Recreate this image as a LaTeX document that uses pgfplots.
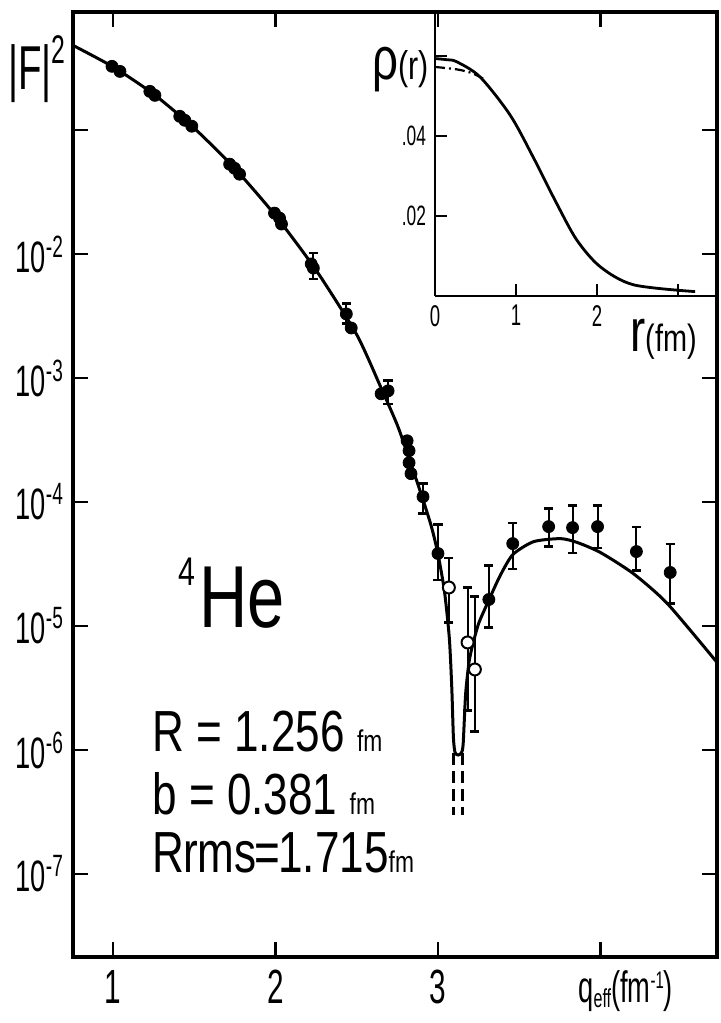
\documentclass[border=0pt]{standalone}
\usepackage{fontspec}
\setmainfont{Liberation Sans}[FakeStretch=0.62]
\newfontfamily\wide{Liberation Sans}[FakeStretch=0.76]
\usepackage{pgfplots}
\pgfplotsset{compat=1.18}
\newcommand{\fs}[1]{\fontsize{#1}{#1}\selectfont}
\begin{document}
\begin{tikzpicture}[x=1pt,y=1pt]
\useasboundingbox (-36.5pt,-33pt) rectangle (323.5pt,478.5pt);
\begin{axis}[
  at={(0pt,0pt)}, anchor=south west,
  width=322pt, height=472.5pt, scale only axis,
  ymode=log,
  xmin=0.754, xmax=4.717, ymin=2.143e-8, ymax=0.8954,
  xtick={1,2,3,4}, xticklabels={1,2,3,{}},
  ytick={1e-7,1e-6,1e-5,1e-4,1e-3,1e-2,1e-1},
  yticklabels={10\textsuperscript{-7},10\textsuperscript{-6},10\textsuperscript{-5},10\textsuperscript{-4},10\textsuperscript{-3},10\textsuperscript{-2},{}},
  yminorticks=false, xminorticks=false,
  tick align=inside, major tick length=7.5pt,
  axis line style={line width=1.6pt},
  tick style={line width=1.2pt, black},
  xticklabel style={font=\fs{24}, yshift=-3pt},
  yticklabel style={font=\fs{22}, xshift=-1pt},
]
% fitted curve
\addplot[black, line width=1.5pt, smooth, tension=0.4] coordinates {
(0.754,0.4819) (1.0,0.3236) (1.25,0.1950) (1.5,0.1035) (1.75,0.04898)
(2.0,0.02042) (2.25,7.413e-3) (2.5,2.239e-3) (2.65,8.318e-4) (2.75,4.169e-4)
(2.82,2.291e-4) (2.9,1.122e-4) (2.96,6.310e-5) (3.0,3.802e-5) (3.04,1.905e-5)
(3.07,7.943e-6) (3.085,3.162e-6) (3.095,1.259e-6) (3.105,9.55e-7) (3.125,9.12e-7)
(3.145,9.55e-7) (3.155,1.122e-6) (3.17,2.818e-6) (3.19,5.012e-6) (3.21,6.761e-6)
(3.25,1.047e-5) (3.31,1.585e-5) (3.38,2.512e-5) (3.46,3.767e-5) (3.589,4.797e-5)
(3.755,5.070e-5) (3.859,4.710e-5) (4.0,3.917e-5) (4.202,2.649e-5) (4.411,1.521e-5)
(4.717,5.093e-6)};
% dashed continuation to the zero
\addplot[black, line width=1.3pt, dash pattern=on 6pt off 3pt] coordinates {(3.097,9.5e-7) (3.097,3.0e-7)};
\addplot[black, line width=1.3pt, dash pattern=on 6pt off 3pt] coordinates {(3.152,9.5e-7) (3.152,3.0e-7)};
% data without visible error bars
\addplot[only marks, black, mark=*, mark size=3pt] coordinates {
(0.994,0.3266) (1.043,0.2972) (1.227,0.2051) (1.258,0.1905) (1.411,0.1291)
(1.442,0.1199) (1.485,0.1074) (1.718,0.05309) (1.748,0.04920) (1.779,0.04406)
(1.994,0.02138) (2.025,0.01950) (2.037,0.01746) (2.22,8.318e-3) (2.466,2.535e-3)
(2.650,7.464e-4) (2.810,3.119e-4) (2.822,2.594e-4) (2.822,2.075e-4) (2.834,1.694e-4)};
% filled points with error bars
\addplot[only marks, black, mark=*, mark size=3pt,
  error bars/.cd, y dir=both, y explicit, error mark=|,
  error bar style={line width=1pt, black},
  error mark options={line width=1.3pt, mark size=2.3pt, black}]
  table[x=q, y=f, y error plus=ep, y error minus=em] {
q f ep em
2.233 7.709e-3 2.52e-3 1.40e-3
2.436 3.289e-3 0.69e-3 0.535e-3
2.693 7.889e-4 1.66e-4 1.72e-4
2.908 1.104e-4 3.09e-5 2.91e-5
3.000 3.846e-5 2.76e-5 1.50e-5
3.313 1.637e-5 1.453e-5 6.60e-6
3.460 4.624e-5 2.14e-5 1.74e-5
3.681 6.339e-5 2.57e-5 1.97e-5
3.828 6.223e-5 3.11e-5 2.33e-5
3.982 6.339e-5 2.99e-5 2.07e-5
4.221 3.990e-5 2.32e-5 1.17e-5
4.429 2.704e-5 1.87e-5 1.19e-5
};
% open points with error bars
\addplot[only marks, black, mark=*, mark size=3pt, mark options={fill=white, line width=1pt},
  error bars/.cd, y dir=both, y explicit, error mark=|,
  error bar style={line width=1pt, black},
  error mark options={line width=1.3pt, mark size=2.3pt, black}]
  table[x=q, y=f, y error plus=ep, y error minus=em] {
q f ep em
3.067 2.046e-5 1.50e-5 0.974e-5
3.182 7.379e-6 1.304e-5 5.29e-6
3.227 4.467e-6 1.291e-5 3.05e-6
};
\end{axis}
% inset
\begin{axis}[
  at={(181pt,330.5pt)}, anchor=south west,
  width=141pt, height=142.5pt, scale only axis,
  xmin=0, xmax=3.48, ymin=0, ymax=0.0713,
  axis x line*=bottom, axis y line*=left,
  axis line style={line width=1.3pt},
  xtick={0,1,2,3}, xticklabels={0,1,2,{}},
  ytick={0.02,0.04,0.06}, yticklabels={.02,.04,{}},
  scaled y ticks=false,
  tick align=inside, major tick length=6pt,
  tick style={line width=1.1pt, black},
  xticklabel style={font=\fs{15}, yshift=-1pt},
  yticklabel style={font=\fs{14}, xshift=-1pt},
]
\addplot[black, line width=1.4pt, smooth] coordinates {
(0,0.0594) (0.15,0.0591) (0.268,0.0586) (0.556,0.0548) (0.926,0.0453) (1.21,0.0348)
(1.50,0.0232) (1.75,0.0140) (2.04,0.0073) (2.45,0.0028) (3.21,0.0011)};
\addplot[black, line width=1.1pt, dash pattern=on 5pt off 2pt on 1pt off 2pt, smooth] coordinates {
(0,0.0573) (0.268,0.0567) (0.45,0.0558) (0.6,0.0543)};
\end{axis}
% texts
\node[anchor=base west, inner sep=0] at (-32.5pt,433.5pt) {\fs{31}|F|\raisebox{13pt}{\fs{20}2}};
\node[anchor=base west, inner sep=0] at (252.5pt,-23pt) {\fs{22}q\raisebox{-2pt}{\fs{13}eff}(fm\raisebox{7pt}{\fs{12}-1})};
\node[anchor=base west, inner sep=0] at (52.5pt,164.5pt) {\wide\raisebox{21pt}{\fs{20}4}\hspace{2pt}\fs{44}He};
\node[anchor=base west, inner sep=0] at (39.5pt,102.5pt) {\wide\fs{29}R = 1.256 \fs{15}fm};
\node[anchor=base west, inner sep=0] at (39.5pt,71pt) {\wide\fs{29}b = 0.381 \fs{15}fm};
\node[anchor=base west, inner sep=0] at (39.5pt,42pt) {\wide\fs{29}R\hspace{-0.5pt}rms\hspace{-1pt}=\hspace{-1pt}1.715\fs{15}fm};
\node[anchor=base west, inner sep=0] at (149.5pt,438.5pt) {\wide\fs{30}ρ\fs{20}(r)};
\node[anchor=base west, inner sep=0] at (278.5pt,302.5pt) {\wide\fs{30}r\fs{19}(fm)};
\end{tikzpicture}
\end{document}
